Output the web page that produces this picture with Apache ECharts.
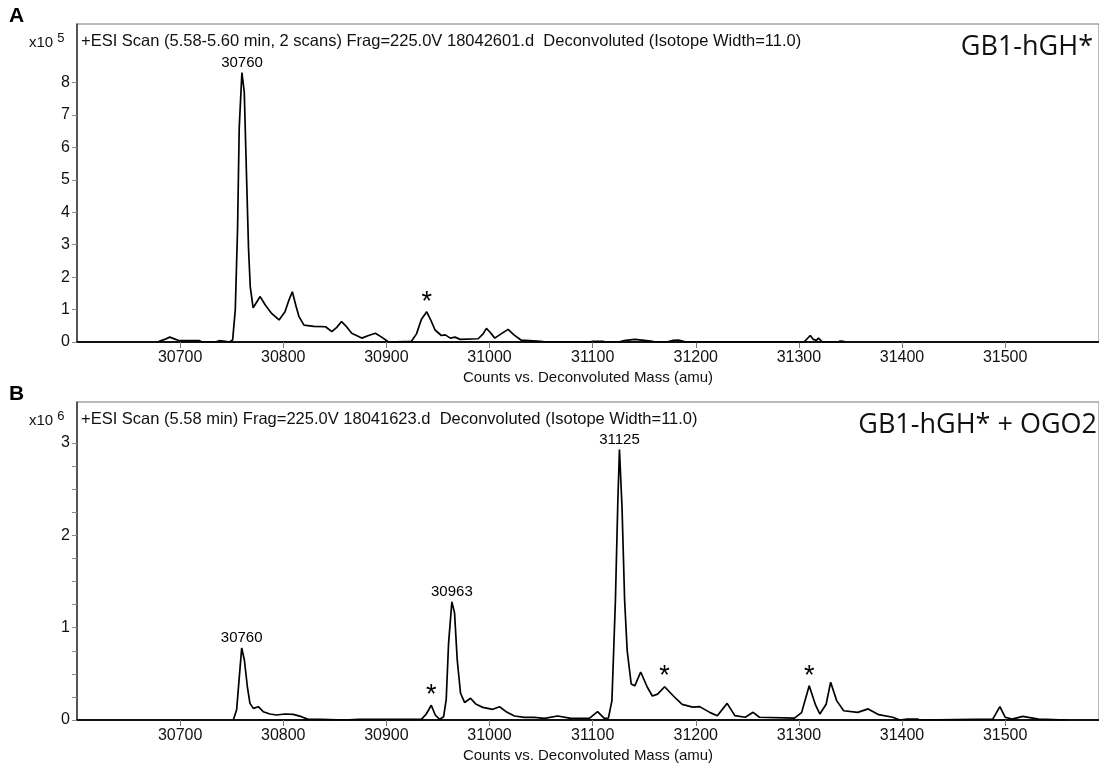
<!DOCTYPE html>
<html>
<head>
<meta charset="utf-8">
<script src="https://cdn.jsdelivr.net/npm/echarts@6.0.0/dist/echarts.min.js"></script>
<style>
  html, body { margin: 0; padding: 0; background: #fff; }
  #chart { width: 1099px; height: 764px; }
</style>
</head>
<body>
<div id="chart"></div>
<script>
// ---- data (mass in amu, counts in x10^5 for A, x10^6 for B) ----
const massA = [30678, 30685, 30690, 30695.6, 30699.4, 30718.7, 30721.6, 30734, 30738, 30743.8, 30747.7,
  30750.9, 30753.5, 30755.7, 30757.3, 30759.9, 30762.2, 30763.8, 30766.3, 30768, 30770.8, 30773.7,
  30777.6, 30782.4, 30788.2, 30795.9, 30801.7, 30805.6, 30808.8, 30812.4, 30815.3, 30820.1, 30829.7,
  30841, 30847.1, 30851.9, 30856.5, 30860.6, 30866.4, 30876.1, 30882.8, 30889.3, 30895.4, 30902.1,
  30924.3, 30929.2, 30934, 30939.1, 30942.7, 30947.2, 30953.3, 30957.1, 30962, 30966.5, 30971.6,
  30989, 30993.8, 30997, 31000.6, 31005.1, 31011.2, 31018, 31023.7, 31030.5, 31049.8, 31054.6,
  31097, 31100, 31110, 31112, 31125, 31130, 31141, 31150, 31158, 31160, 31172, 31178, 31183, 31188, 31190,
  31305, 31308, 31311, 31314, 31317, 31319, 31322, 31324, 31338, 31340, 31343, 31345];
const countsA = [0, 0.08, 0.15, 0.08, 0.04, 0.04, 0, 0, 0.04, 0.02, 0,
  0.06, 1.0, 3.5, 6.6, 8.3, 7.7, 5.8, 2.9, 1.7, 1.05, 1.2,
  1.4, 1.15, 0.9, 0.68, 0.93, 1.3, 1.55, 1.1, 0.78, 0.52, 0.48,
  0.47, 0.32, 0.45, 0.63, 0.5, 0.27, 0.12, 0.2, 0.27, 0.15, 0,
  0.02, 0.25, 0.7, 0.93, 0.7, 0.37, 0.2, 0.22, 0.12, 0.15, 0.08,
  0.1, 0.25, 0.42, 0.3, 0.12, 0.25, 0.39, 0.22, 0.06, 0.02, 0,
  0, 0.02, 0.02, 0, 0, 0.04, 0.08, 0.05, 0.02, 0, 0, 0.05, 0.06, 0.02, 0,
  0, 0.1, 0.2, 0.08, 0.05, 0.12, 0.02, 0, 0, 0.03, 0.02, 0];

const massB = [30751.6, 30754.8, 30757.4, 30759.7, 30762.3, 30765.2, 30767.7, 30771, 30775.8, 30780.6,
  30787.1, 30793.5, 30801.6, 30809.7, 30817.7, 30824.2, 30837, 30838.7, 30859, 30860, 30873, 30874,
  30933.9, 30938.7, 30943.5, 30947.4, 30951.6, 30955.5, 30958, 30960.3, 30963.5, 30966.1, 30968.7,
  30971.9, 30975.8, 30981.6, 30987.1, 30993.5, 31003.2, 31009.7, 31016.1, 31024.2, 31033.9, 31043.5,
  31053.2, 31066.1, 31079, 31096.8, 31104.8, 31111.3, 31115.3, 31118.7, 31122.1, 31124.5, 31126,
  31128.5, 31131, 31133.5, 31137.4, 31140.9, 31146.6, 31152.8, 31157.9, 31163, 31169.8, 31178.3,
  31186.8, 31197, 31203.8, 31214, 31220.9, 31230.4, 31237.9, 31248, 31255.6, 31261.7, 31295.7,
  31302.6, 31310, 31316.2, 31320.3, 31326.4, 31330.8, 31336.6, 31343.4, 31357, 31367.2, 31377.4,
  31391, 31397.9, 31405, 31415, 31417, 31488, 31494.9, 31500, 31506.8, 31517, 31532.3, 31559.6];
const countsB = [0, 0.11, 0.47, 0.78, 0.65, 0.36, 0.18, 0.126, 0.144, 0.09,
  0.065, 0.054, 0.065, 0.061, 0.036, 0.007, 0.007, 0, 0, 0.007, 0.007, 0,
  0.007, 0.065, 0.16, 0.054, 0.007, 0.036, 0.22, 0.83, 1.28, 1.16, 0.65,
  0.29, 0.19, 0.235, 0.17, 0.137, 0.116, 0.144, 0.09, 0.043, 0.029, 0.029,
  0.018, 0.043, 0.018, 0.018, 0.09, 0.018, 0.02, 0.21, 1.3, 2.4, 2.93,
  2.3, 1.3, 0.75, 0.39, 0.37, 0.52, 0.36, 0.26, 0.28, 0.36, 0.26,
  0.17, 0.14, 0.145, 0.08, 0.047, 0.18, 0.047, 0.03, 0.083, 0.03, 0.02,
  0.08, 0.37, 0.16, 0.065, 0.17, 0.41, 0.21, 0.1, 0.083, 0.12, 0.058,
  0.03, 0, 0.01, 0.01, 0, 0.01, 0.145, 0.03, 0.01, 0.04, 0.01, 0];

// peak annotations [mass, counts, text]
const labelsA = [[30760, 8.3, '30760'], [30939.1, 0.93, '*']];
const labelsB = [[30759.7, 0.78, '30760'], [30963.5, 1.28, '30963'], [31126, 2.93, '31125'],
  [30943.5, 0.16, '*'], [31169.8, 0.36, '*'], [31310, 0.37, '*']];

// axis ticks
const yLabelsA = [0, 1, 2, 3, 4, 5, 6, 7, 8];
const yLabelsB = [0, 1, 2, 3];
const yTicksB = [0, 0.25, 0.5, 0.75, 1, 1.25, 1.5, 1.75, 2, 2.25, 2.5, 2.75, 3];

const headerA = '+ESI Scan (5.58-5.60 min, 2 scans) Frag=225.0V 18042601.d  Deconvoluted (Isotope Width=11.0)';
const headerB = '+ESI Scan (5.58 min) Frag=225.0V 18041623.d  Deconvoluted (Isotope Width=11.0)';
const xTitle = 'Counts vs. Deconvoluted Mass (amu)';

const FONT = 'Liberation Sans, Arial, sans-serif';

function pairs (xs, ys) {
  return xs.map((x, i) => [x, ys[i]]);
}

function xAxisOpt (gridIndex) {
  return {
    type: 'value',
    gridIndex: gridIndex,
    min: 30600,
    max: 31591,
    interval: 100,
    name: xTitle,
    nameLocation: 'middle',
    nameGap: 28,
    nameTextStyle: { color: '#111', fontSize: 15, fontFamily: FONT },
    axisLine: { lineStyle: { color: '#111', width: 2 } },
    axisTick: { length: 6, lineStyle: { color: '#777', width: 1 } },
    axisLabel: {
      color: '#111', fontSize: 16, fontFamily: FONT, margin: 8,
      showMinLabel: false, showMaxLabel: false,
      formatter: v => String(v), // 不要千分位
    },
    splitLine: { show: false },
  };
}

function yAxisOpt (gridIndex, max, labels, ticks) {
  return {
    type: 'value',
    gridIndex: gridIndex,
    min: 0,
    max: max,
    axisLine: { show: true, lineStyle: { color: '#333', width: 1.5 } },
    axisTick: { show: true, length: 5, customValues: ticks, lineStyle: { color: '#888' } },
    axisLabel: { color: '#111', fontSize: 16, fontFamily: FONT, margin: 7, customValues: labels },
    splitLine: { show: false },
  };
}

function labelSeries (idx, items) {
  return {
    type: 'scatter',
    xAxisIndex: idx,
    yAxisIndex: idx,
    symbolSize: 0.5,
    itemStyle: { color: '#000', opacity: 1 }, // scatter 默认 0.8 透明度，标签会发灰
    silent: true,
    z: 5,
    data: items.map(d => ({
      value: [d[0], d[1]],
      label: {
        show: true,
        position: 'top',
        formatter: d[2],
        distance: d[2] === '*' ? -4 : 2,
        fontSize: d[2] === '*' ? 27 : 15,
        color: '#000',
        textBorderWidth: 0,
        fontFamily: FONT,
      },
    })),
  };
}

const chart = echarts.init(document.getElementById('chart'), null, { renderer: 'canvas' });

const option = {
  backgroundColor: '#fff',
  animation: false,
  grid: [
    { left: 77, top: 24, right: -6, height: 318, show: true, borderColor: '#777', borderWidth: 1 },
    { left: 77, top: 402, right: -6, height: 318, show: true, borderColor: '#777', borderWidth: 1 },
  ],
  xAxis: [xAxisOpt(0), xAxisOpt(1)],
  yAxis: [
    yAxisOpt(0, 9.8, yLabelsA, yLabelsA),
    yAxisOpt(1, 3.445, yLabelsB, yTicksB),
  ],
  series: [
    {
      type: 'line',
      xAxisIndex: 0,
      yAxisIndex: 0,
      showSymbol: false,
      lineStyle: { color: '#000', width: 1.7 },
      data: pairs(massA, countsA),
    },
    {
      type: 'line',
      xAxisIndex: 1,
      yAxisIndex: 1,
      showSymbol: false,
      lineStyle: { color: '#000', width: 1.7 },
      data: pairs(massB, countsB),
    },
    labelSeries(0, labelsA),
    labelSeries(1, labelsB),
  ],
  graphic: [
    { type: 'text', left: 9, top: 6, style: { text: 'A', font: 'bold 21px ' + FONT, fill: '#000' } },
    { type: 'text', left: 9, top: 384, style: { text: 'B', font: 'bold 21px ' + FONT, fill: '#000' } },
    {
      type: 'text', left: 29, top: 32,
      style: {
        text: '{b|x10 }{s|5}',
        rich: { b: { fontSize: 15, fontFamily: FONT, fill: '#111' }, s: { fontSize: 13, fontFamily: FONT, fill: '#111', verticalAlign: 'top', padding: [0, 0, 8, 0] } },
      },
    },
    {
      type: 'text', left: 29, top: 410,
      style: {
        text: '{b|x10 }{s|6}',
        rich: { b: { fontSize: 15, fontFamily: FONT, fill: '#111' }, s: { fontSize: 13, fontFamily: FONT, fill: '#111', verticalAlign: 'top', padding: [0, 0, 8, 0] } },
      },
    },
    { type: 'text', left: 81, top: 33, style: { text: headerA, font: '16.5px ' + FONT, fill: '#111' } },
    { type: 'text', left: 81, top: 411, style: { text: headerB, font: '16.5px ' + FONT, fill: '#111' } },
    { type: 'text', right: 6, top: 34, style: { text: 'GB1-hGH*', font: '27px Open Sans, sans-serif', fill: '#111' } },
    { type: 'text', right: 2, top: 412, style: { text: 'GB1-hGH* + OGO2', font: '27px Open Sans, sans-serif', fill: '#111' } },
  ],
};

chart.setOption(option);
</script>
</body>
</html>
